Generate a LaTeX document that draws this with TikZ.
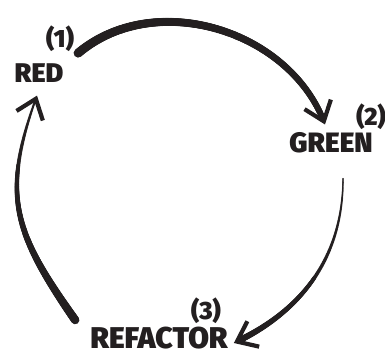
\documentclass[tikz,border=0pt]{standalone}
\usepackage{fontspec}
\newfontfamily\cyclefont{Fira Sans Black}
\usetikzlibrary{arrows.meta,decorations.markings}
\definecolor{ink}{RGB}{35,31,32}
\tikzset{
  stage/.style={text=ink, inner sep=0pt, font=\cyclefont\fontsize{27}{27}\selectfont},
  stepno/.style={text=ink, inner sep=0pt, font=\cyclefont\fontsize{25}{25}\selectfont},
  tip/.style={-{Straight Barb[length=18pt, width=28pt, line width'=4.2pt]}},
  % brush stroke whose width runs from #1 to #2 (pt)
  brush/.style 2 args={ink, line width=0.1pt, line cap=butt,
    postaction={decorate, decoration={markings,
      mark=between positions 0 and 0.97 step 0.7pt with {
        \pgfmathsetmacro\brushr{(#1+(#2-#1)*\pgfkeysvalueof{/pgf/decoration/mark info/distance from start}/\pgfdecoratedpathlength)/2}
        \fill[ink] (0,0) circle (\brushr pt);}}}},
}
\begin{document}
\begin{tikzpicture}[x=1pt,y=1pt]
  \useasboundingbox (0,0) rectangle (385,357);
  % stages
  \node[stage] (red) at (39,284) {RED};
  \node[stepno] (one) at (60,318) {(1)};
  \node[stage, font=\cyclefont\fontsize{28}{28}\selectfont] (green) at (331,214) {GREEN};
  \node[stepno] (two) at (371,240) {(2)};
  \node[stage, font=\cyclefont\fontsize{30}{30}\selectfont] (refactor) at (159,19) {REFACTOR};
  \node[stepno] (three) at (206,46) {(3)};
  % cycle
  \draw[brush={9}{6}, tip] ([shift={(4,-1)}]one.south east)
    to[out=40, in=110] ([shift={(-6,8)}]green.north);
  \draw[brush={1.5}{6.5}, tip] ([shift={(12,-25)}]green.south)
    to[out=-90, in=25] ([shift={(6,-5)}]refactor.east);
  \draw[brush={8.5}{2}, tip] ([shift={(-15,18)}]refactor.west)
    to[out=125, in=-110, looseness=1.2] ([shift={(-2,-13)}]red.south);
\end{tikzpicture}
\end{document}
